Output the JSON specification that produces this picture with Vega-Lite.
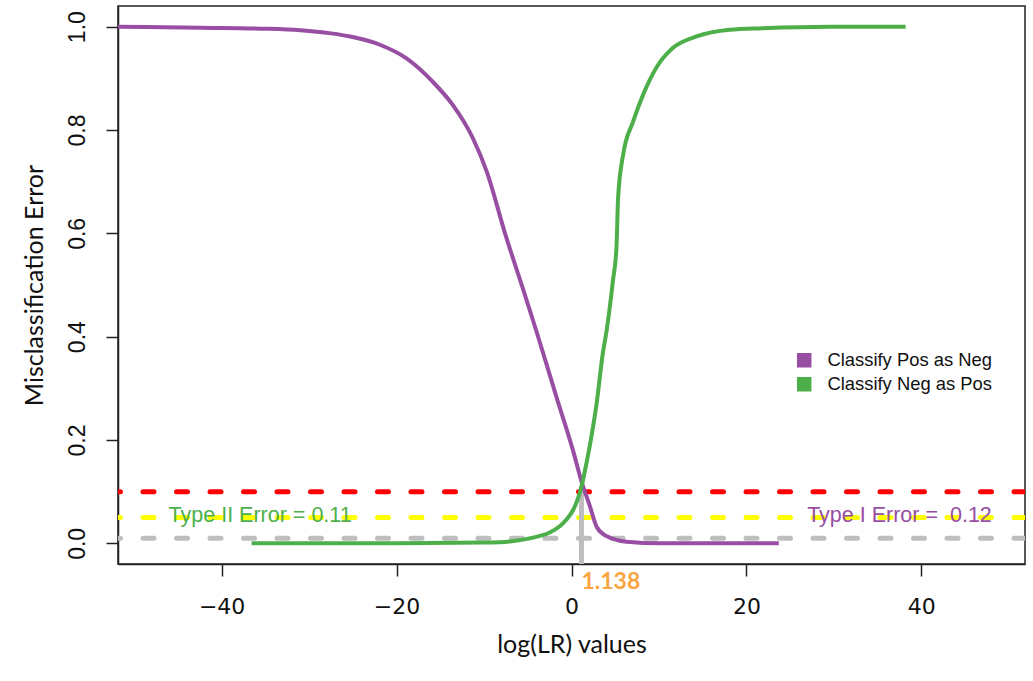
{
  "$schema": "https://vega.github.io/schema/vega-lite/v6.json",
  "width": 907,
  "height": 558,
  "autosize": {"type": "none"},
  "padding": {"left": 118, "top": 6, "right": 8, "bottom": 117},
  "background": "white",
  "config": {
    "view": {"stroke": "#222222", "strokeWidth": 1.5},
    "legend": {"symbolStrokeColor": "#000000", "symbolStrokeWidth": 1.5},
    "axis": {
      "domainColor": "#222222",
      "domainWidth": 1.5,
      "tickColor": "#222222",
      "tickWidth": 1.5,
      "tickSize": 12,
      "grid": false,
      "labelFont": "Liberation Sans",
      "labelFontSize": 23,
      "labelColor": "#111111",
      "titleFont": "Lato",
      "titleFontSize": 25,
      "titleFontWeight": "normal",
      "titleColor": "#111111"
    }
  },
  "datasets": {
    "curves": [
      {"series": "Classify Pos as Neg", "x": -51.85, "y": 1.0},
      {"series": "Classify Pos as Neg", "x": -42.5, "y": 0.998},
      {"series": "Classify Pos as Neg", "x": -35.0, "y": 0.996},
      {"series": "Classify Pos as Neg", "x": -31.0, "y": 0.993},
      {"series": "Classify Pos as Neg", "x": -27.5, "y": 0.987},
      {"series": "Classify Pos as Neg", "x": -25.3, "y": 0.981},
      {"series": "Classify Pos as Neg", "x": -21.9, "y": 0.965},
      {"series": "Classify Pos as Neg", "x": -18.9, "y": 0.939},
      {"series": "Classify Pos as Neg", "x": -15.9, "y": 0.894},
      {"series": "Classify Pos as Neg", "x": -13.6, "y": 0.849},
      {"series": "Classify Pos as Neg", "x": -11.3, "y": 0.785},
      {"series": "Classify Pos as Neg", "x": -9.7, "y": 0.72},
      {"series": "Classify Pos as Neg", "x": -7.6, "y": 0.6},
      {"series": "Classify Pos as Neg", "x": -5.5, "y": 0.49},
      {"series": "Classify Pos as Neg", "x": -4.0, "y": 0.41},
      {"series": "Classify Pos as Neg", "x": -1.7, "y": 0.282},
      {"series": "Classify Pos as Neg", "x": 0.2, "y": 0.178},
      {"series": "Classify Pos as Neg", "x": 1.138, "y": 0.12},
      {"series": "Classify Pos as Neg", "x": 2.1, "y": 0.072},
      {"series": "Classify Pos as Neg", "x": 2.9, "y": 0.031},
      {"series": "Classify Pos as Neg", "x": 4.0, "y": 0.014},
      {"series": "Classify Pos as Neg", "x": 6.3, "y": 0.003},
      {"series": "Classify Pos as Neg", "x": 10.1, "y": 0.0},
      {"series": "Classify Pos as Neg", "x": 23.7, "y": 0.0},
      {"series": "Classify Neg as Pos", "x": -36.57, "y": 0.0},
      {"series": "Classify Neg as Pos", "x": -19.6, "y": 0.0},
      {"series": "Classify Neg as Pos", "x": -10.1, "y": 0.0015},
      {"series": "Classify Neg as Pos", "x": -8.2, "y": 0.002},
      {"series": "Classify Neg as Pos", "x": -6.0, "y": 0.006},
      {"series": "Classify Neg as Pos", "x": -4.4, "y": 0.011},
      {"series": "Classify Neg as Pos", "x": -2.5, "y": 0.021},
      {"series": "Classify Neg as Pos", "x": -1.34, "y": 0.033},
      {"series": "Classify Neg as Pos", "x": -0.57, "y": 0.046},
      {"series": "Classify Neg as Pos", "x": 0.2, "y": 0.065},
      {"series": "Classify Neg as Pos", "x": 0.7, "y": 0.085},
      {"series": "Classify Neg as Pos", "x": 1.138, "y": 0.11},
      {"series": "Classify Neg as Pos", "x": 1.71, "y": 0.155},
      {"series": "Classify Neg as Pos", "x": 2.28, "y": 0.207},
      {"series": "Classify Neg as Pos", "x": 2.86, "y": 0.269},
      {"series": "Classify Neg as Pos", "x": 3.6, "y": 0.37},
      {"series": "Classify Neg as Pos", "x": 4.0, "y": 0.41},
      {"series": "Classify Neg as Pos", "x": 4.75, "y": 0.51},
      {"series": "Classify Neg as Pos", "x": 5.14, "y": 0.572},
      {"series": "Classify Neg as Pos", "x": 5.33, "y": 0.669},
      {"series": "Classify Neg as Pos", "x": 5.9, "y": 0.752},
      {"series": "Classify Neg as Pos", "x": 7.04, "y": 0.816},
      {"series": "Classify Neg as Pos", "x": 8.18, "y": 0.868},
      {"series": "Classify Neg as Pos", "x": 9.71, "y": 0.921},
      {"series": "Classify Neg as Pos", "x": 11.61, "y": 0.959},
      {"series": "Classify Neg as Pos", "x": 14.29, "y": 0.981},
      {"series": "Classify Neg as Pos", "x": 18.09, "y": 0.994},
      {"series": "Classify Neg as Pos", "x": 21.86, "y": 0.997},
      {"series": "Classify Neg as Pos", "x": 29.5, "y": 1.0},
      {"series": "Classify Neg as Pos", "x": 38.2, "y": 1.0}
    ]
  },
  "layer": [
    {
      "data": {"values": [{}]},
      "mark": {"type": "rule", "color": "#FF0000", "strokeWidth": 5, "strokeDash": [11, 22.5], "strokeCap": "round", "clip": true},
      "encoding": {"y": {"datum": 0.1, "type": "quantitative", "scale": {"domain": [-0.04, 1.04], "nice": false, "zero": false}}}
    },
    {
      "data": {"values": [{}]},
      "mark": {"type": "rule", "color": "#FFFF00", "strokeWidth": 5, "strokeDash": [11, 22.5], "strokeCap": "round", "clip": true},
      "encoding": {"y": {"datum": 0.05, "type": "quantitative"}}
    },
    {
      "data": {"values": [{}]},
      "mark": {"type": "rule", "color": "#BEBEBE", "strokeWidth": 5, "strokeDash": [11, 22.5], "strokeCap": "round", "clip": true},
      "encoding": {"y": {"datum": 0.01, "type": "quantitative"}}
    },
    {
      "data": {"values": [{}]},
      "mark": {"type": "rule", "color": "#BEBEBE", "strokeWidth": 5},
      "encoding": {
        "x": {"datum": 1.138, "type": "quantitative"},
        "y": {"datum": -0.04, "type": "quantitative"},
        "y2": {"datum": 0.11}
      }
    },
    {
      "data": {"name": "curves"},
      "mark": {"type": "line", "strokeWidth": 4, "interpolate": "monotone", "clip": true},
      "encoding": {
        "x": {
          "field": "x", "type": "quantitative",
          "scale": {"domain": [-51.85, 51.85], "nice": false, "zero": false},
          "axis": {"values": [-40, -20, 0, 20, 40], "format": "d", "title": "log(LR) values", "labelFont": "DejaVu Sans", "labelFontSize": 22, "labelBaseline": "alphabetic", "labelPadding": 37, "titleY": 88, "titleBaseline": "alphabetic"}
        },
        "y": {
          "field": "y", "type": "quantitative",
          "axis": {"values": [0, 0.2, 0.4, 0.6, 0.8, 1.0], "format": ".1f", "title": "Misclassification Error", "labelAngle": 270, "labelAlign": "center", "labelBaseline": "alphabetic", "labelPadding": 22, "titleX": -76, "titleBaseline": "alphabetic", "titleAngle": 270}
        },
        "color": {
          "field": "series", "type": "nominal",
          "scale": {"domain": ["Classify Pos as Neg", "Classify Neg as Pos"], "range": ["#984EA3", "#4DAF4A"]},
          "legend": {
            "title": null,
            "orient": "none",
            "legendX": 677,
            "legendY": 345,
            "padding": 0,
            "symbolType": "square",
            "symbolSize": 169,
            "labelFont": "Liberation Sans",
            "labelFontSize": 18.4,
            "labelColor": "#111111",
            "labelLimit": 0,
            "labelOffset": 14,
            "rowPadding": 4,
            "encode": {
              "symbols": {
                "update": {"fill": {"scale": "color", "field": "value"}, "fillOpacity": {"value": 1}, "stroke": {"value": "#000000"}, "strokeWidth": {"value": 1.5}, "strokeOpacity": {"value": 1}}
              }
            }
          }
        },
        "order": {"field": "x", "type": "quantitative"}
      }
    },
    {
      "data": {"values": [{}]},
      "mark": {"type": "text", "color": "#4DAF4A", "font": "Liberation Sans", "fontSize": 21.5, "align": "center", "baseline": "middle"},
      "encoding": {"x": {"datum": -35.6, "type": "quantitative"}, "y": {"datum": 0.053, "type": "quantitative"}, "text": {"value": "Type II Error = 0.11"}}
    },
    {
      "data": {"values": [{}]},
      "mark": {"type": "text", "color": "#984EA3", "font": "Liberation Sans", "fontSize": 21.5, "align": "center", "baseline": "middle"},
      "encoding": {"x": {"datum": 37.5, "type": "quantitative"}, "y": {"datum": 0.053, "type": "quantitative"}, "text": {"value": "Type I Error =\u00a0 0.12"}}
    },
    {
      "data": {"values": [{}]},
      "mark": {"type": "text", "color": "#F9A541", "font": "Lato", "fontSize": 23, "fontWeight": "bold", "align": "left", "baseline": "alphabetic"},
      "encoding": {"x": {"datum": 1.138, "type": "quantitative"}, "y": {"datum": -0.089, "type": "quantitative"}, "text": {"value": "1.138"}}
    }
  ]
}
